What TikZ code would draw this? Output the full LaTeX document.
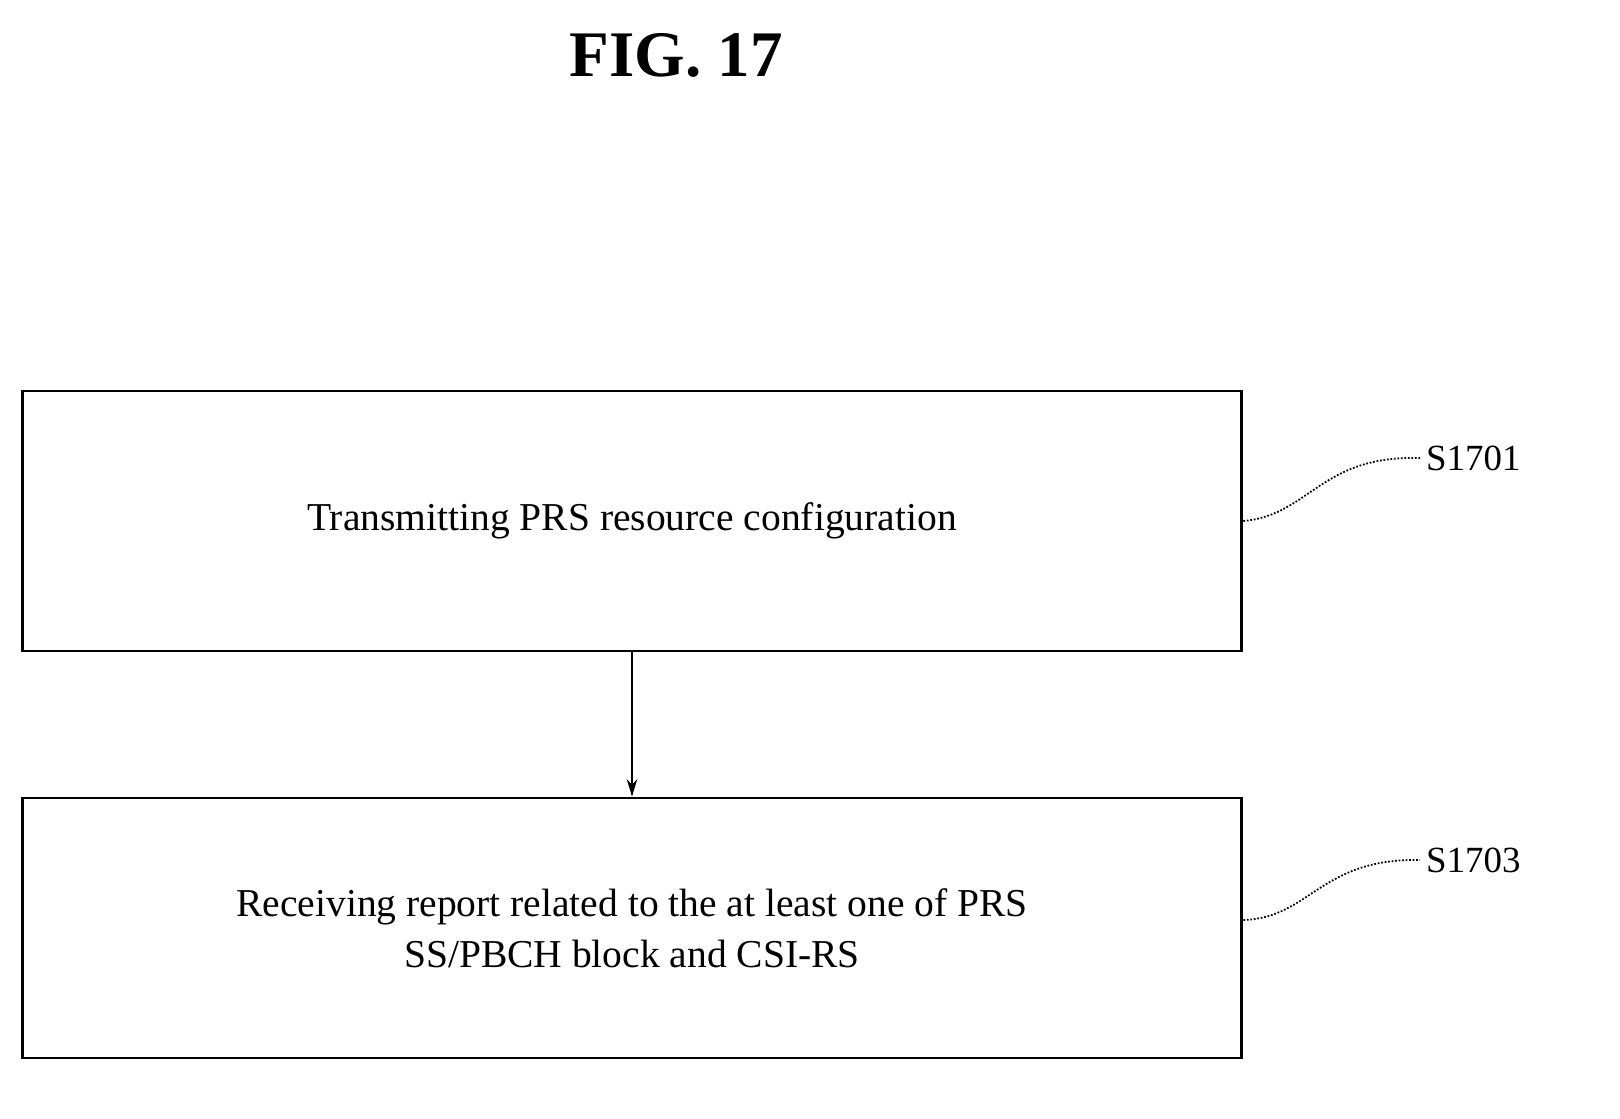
\documentclass[tikz,border=0pt]{standalone}
\usepackage{fontspec}
\setmainfont{Liberation Serif}
\usetikzlibrary{positioning,arrows.meta}
\tikzset{
    stepbox/.style={draw,line width=1.6pt,minimum width=24.4cm,minimum height=5.2cm,align=center,font=\fontsize{22.5}{29}\selectfont},
    steplabel/.style={font=\fontsize{21}{25}\selectfont,anchor=west},
    squiggle/.style={densely dotted,line width=1pt}
}
\begin{document}
\begin{tikzpicture}[x=0.02cm,y=-0.02cm]
    \useasboundingbox (0,0) rectangle (1620,1119);
    \node[font=\fontsize{37}{40}\selectfont\bfseries] (title) at (676,55) {FIG. 17};
    \node[stepbox] (prs) at (632,521) {Transmitting PRS resource configuration};
    \node[stepbox] (report) at (632,928) {Receiving report related to the at least one of PRS\\SS/PBCH block and CSI-RS};
    \draw[-{Stealth[length=10pt,width=6pt]},line width=1pt] (prs) -- (report);
    \node[steplabel] (s1701) at (1420,458) {S1701};
    \node[steplabel] (s1703) at (1420,860) {S1703};
    \draw[squiggle] (prs.east) .. controls (1310,515) and (1320,455) .. (s1701.west);
    \draw[squiggle] (report.east) ++(0,-8) .. controls (1310,918) and (1320,858) .. (s1703.west);
\end{tikzpicture}
\end{document}
